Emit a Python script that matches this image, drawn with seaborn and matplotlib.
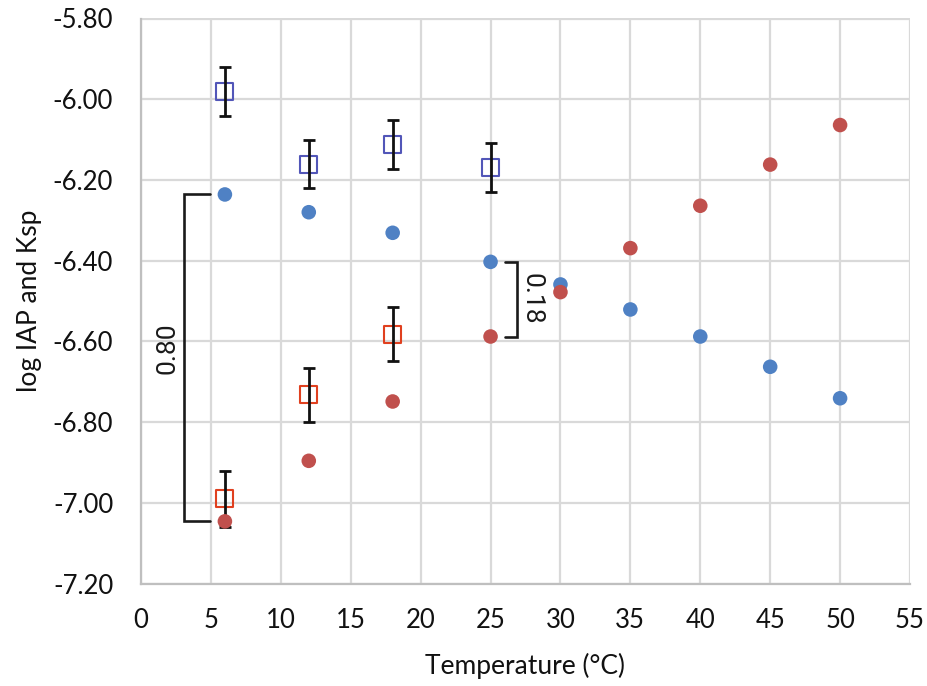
import matplotlib
matplotlib.use("Agg")
import matplotlib.pyplot as plt
import seaborn as sns
import pandas as pd
import numpy as np

# ---- data ----
temps = [6, 12, 18, 25, 30, 35, 40, 45, 50]
blue_circles = [-6.236, -6.280, -6.331, -6.403, -6.459, -6.521, -6.588, -6.663, -6.741]
red_circles = [-7.046, -6.896, -6.749, -6.588, -6.478, -6.369, -6.264, -6.162, -6.064]

blue_sq_x = [6, 12, 18, 25]
blue_sq_y = [-5.981, -6.161, -6.113, -6.170]
blue_sq_err = [0.061, 0.060, 0.061, 0.061]

red_sq_x = [6, 12, 18]
red_sq_y = [-6.990, -6.732, -6.582]
red_sq_err = [0.070, 0.067, 0.067]

xticks = list(range(0, 56, 5))
yticks = [-7.2, -7.0, -6.8, -6.6, -6.4, -6.2, -6.0, -5.8]

bracket1 = dict(x=3.05, xend=4.9, ytop=-6.236, ybot=-7.046, label="0.80", lx=1.9)
bracket2 = dict(x=26.9, xend=26.05, ytop=-6.403, ybot=-6.588, label="0.18", lx=27.9)

sns.set_theme(style="white")
plt.rcParams["font.family"] = ["Lato", "DejaVu Sans"]

fig = plt.figure(figsize=(9.28, 6.86), dpi=100)
ax = fig.add_axes([141 / 928, 1 - 583.5 / 686, (910 - 141) / 928, (583.5 - 18.5) / 686])

grid_c = "#d9d9d9"
ax.set_xlim(0, 55)
ax.set_ylim(-7.2, -5.8)
ax.set_xticks(xticks)
ax.set_yticks(yticks)
ax.set_yticklabels([f"{v:.2f}" for v in yticks])
ax.grid(True, color=grid_c, linewidth=1.6)
ax.set_axisbelow(True)
for s in ["top", "right"]:
    ax.spines[s].set_visible(False)
for s in ["left", "bottom"]:
    ax.spines[s].set_color("#bfbfbf")
    ax.spines[s].set_linewidth(1.6)
ax.tick_params(axis="both", length=0, labelsize=18.5, colors="#111111")
ax.tick_params(axis="y", pad=20)
ax.tick_params(axis="x", pad=18)

df_sq_b = pd.DataFrame({"x": blue_sq_x, "y": blue_sq_y})
df_sq_r = pd.DataFrame({"x": red_sq_x, "y": red_sq_y})
sns.scatterplot(data=df_sq_b, x="x", y="y", marker="s", s=150, facecolor="none",
                edgecolor="#5256b8", linewidth=1.5, ax=ax, zorder=3)
sns.scatterplot(data=df_sq_r, x="x", y="y", marker="s", s=150, facecolor="none",
                edgecolor="#e0401f", linewidth=1.5, ax=ax, zorder=3)

ax.errorbar(blue_sq_x, blue_sq_y, yerr=blue_sq_err, fmt="none", ecolor="#111111",
            elinewidth=2.0, capsize=4.5, capthick=2.0, zorder=4)
ax.errorbar(red_sq_x, red_sq_y, yerr=red_sq_err, fmt="none", ecolor="#111111",
            elinewidth=2.0, capsize=4.5, capthick=2.0, zorder=4)

df_c = pd.DataFrame({"x": temps + temps,
                     "y": blue_circles + red_circles,
                     "s": ["b"] * len(temps) + ["r"] * len(temps)})
sns.scatterplot(data=df_c, x="x", y="y", hue="s", palette={"b": "#4f81c4", "r": "#c0504d"},
                s=110, linewidth=0, ax=ax, zorder=5, legend=False)

for b, rot in [(bracket1, 90), (bracket2, 270)]:
    ax.plot([b["xend"], b["x"], b["x"], b["xend"]], [b["ytop"], b["ytop"], b["ybot"], b["ybot"]],
            color="#1a1a1a", linewidth=1.9, zorder=4, solid_joinstyle="miter")
    ax.text(b["lx"], (b["ytop"] + b["ybot"]) / 2 if rot == 270 else -6.616, b["label"],
            rotation=rot, ha="center", va="center", fontsize=19, color="#1a1a1a",
            family=["Roboto", "DejaVu Sans"])

ax.set_xlabel("Temperature (°C)", fontsize=19, color="#111111", labelpad=14)
ax.set_ylabel("log IAP and Ksp", fontsize=19, color="#111111", labelpad=8)

fig.savefig("out.png", dpi=100)
